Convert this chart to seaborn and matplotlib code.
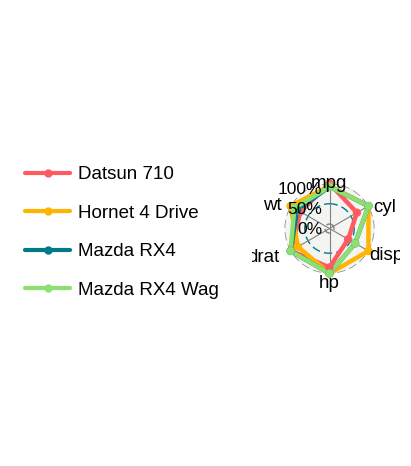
import numpy as np
import pandas as pd
import matplotlib
matplotlib.use("Agg")
import matplotlib.pyplot as plt
import seaborn as sns
from matplotlib.lines import Line2D
from matplotlib.transforms import Bbox, TransformedBbox

# scaled values (share of column max)
variables = ['mpg', 'cyl', 'disp', 'hp', 'drat', 'wt']
cars = ['Datsun 710', 'Hornet 4 Drive', 'Mazda RX4', 'Mazda RX4 Wag']
datsun_710 = [1.00, 0.67, 0.42, 0.85, 0.99, 0.72]
hornet_4_drive = [0.94, 1.00, 1.00, 1.00, 0.79, 1.00]
mazda_rx4 = [0.92, 1.00, 0.62, 1.00, 1.00, 0.81]
mazda_rx4_wag = [0.92, 1.00, 0.62, 1.00, 1.00, 0.89]
grid_values = [0, 0.5, 1]
grid_labels = ['0%', '50%', '100%']

palette = ['#FF5A5F', '#FFB400', '#007A87', '#8CE071']

sns.set_theme(style='white')
plt.rcParams['font.family'] = ['Liberation Sans', 'DejaVu Sans']
plt.rcParams['text.color'] = 'black'

angles = np.linspace(0, 2 * np.pi, len(variables), endpoint=False)
rows = []
for car, vals in zip(cars, [datsun_710, hornet_4_drive, mazda_rx4, mazda_rx4_wag]):
    for i, v in enumerate(vals + vals[:1]):
        theta = angles[i] if i < len(variables) else 2 * np.pi
        rows.append({'car': car, 'theta': theta, 'value': v, 'order': i})
df = pd.DataFrame(rows)
pts = df[df['order'] < len(variables)]

fig = plt.figure(figsize=(4.11, 4.66), dpi=100)
R = 45
cx, cy = 329.5, 228.5
ax = fig.add_axes([(cx - R) / 411, (466 - cy - R) / 466, 2 * R / 411, 2 * R / 466], projection='polar')
ax.set_theta_zero_location('N')
ax.set_theta_direction(-1)
centre = -1 / 9
ax.set_ylim(centre, 1)
ax.axis('off')

t = np.linspace(0, 2 * np.pi, 200)
ax.fill_between(t, centre, 1, color='#F4F4F2', zorder=0)
for v, col in zip(grid_values, ['grey', '#007A87', 'grey']):
    ax.plot(t, np.full_like(t, v), color=col, lw=1, ls=(0, (6, 3)), zorder=1)
for a in angles:
    ax.plot([a, a], [centre, 1], color='grey', lw=0.8, zorder=1)

sns.lineplot(data=df, x='theta', y='value', hue='car', units='car', estimator=None,
             sort=False, palette=palette, lw=3.2, legend=False, ax=ax, zorder=3, clip_on=False)
sns.scatterplot(data=pts, x='theta', y='value', hue='car', palette=palette, s=36,
                linewidth=0, legend=False, ax=ax, zorder=4, clip_on=False)

# axis label placement (pixels from the centre) and alignment
label_pos = {'mpg': (-1, 45.5, 'center'), 'cyl': (43.5, 21.5, 'left'),
             'disp': (40, -26.5, 'left'), 'hp': (0, -54.5, 'center'),
             'drat': (-50.5, -29.5, 'right'), 'wt': (-48, 22.5, 'right')}
clip = TransformedBbox(Bbox.from_extents(252 / 411, 0, 400 / 411, 1), fig.transFigure)
for lbl in variables:
    dx, dy, ha = label_pos[lbl]
    txt = ax.annotate(lbl, xy=(0, centre), xytext=(dx, dy), textcoords='offset pixels',
                      ha=ha, va='center', fontsize=13.5, zorder=5)
    txt.set_clip_box(clip)
    txt.set_clip_on(True)

for v, lbl in zip(grid_values, grid_labels):
    ax.annotate(lbl, xy=(0, v), xytext=(-7, -6), textcoords='offset pixels',
                ha='right', va='center', fontsize=12.5, zorder=5)

handles = [Line2D([], [], color=c, lw=3, marker='o', markersize=5) for c in palette]
fig.legend(handles, cars, loc='center left', bbox_to_anchor=(25 / 411, 0.501), frameon=False,
           fontsize=13.5, handlelength=2.4, handletextpad=0.45, labelspacing=1.14,
           borderpad=0, borderaxespad=0, labelcolor='black')

fig.savefig('out.png', dpi=100)
